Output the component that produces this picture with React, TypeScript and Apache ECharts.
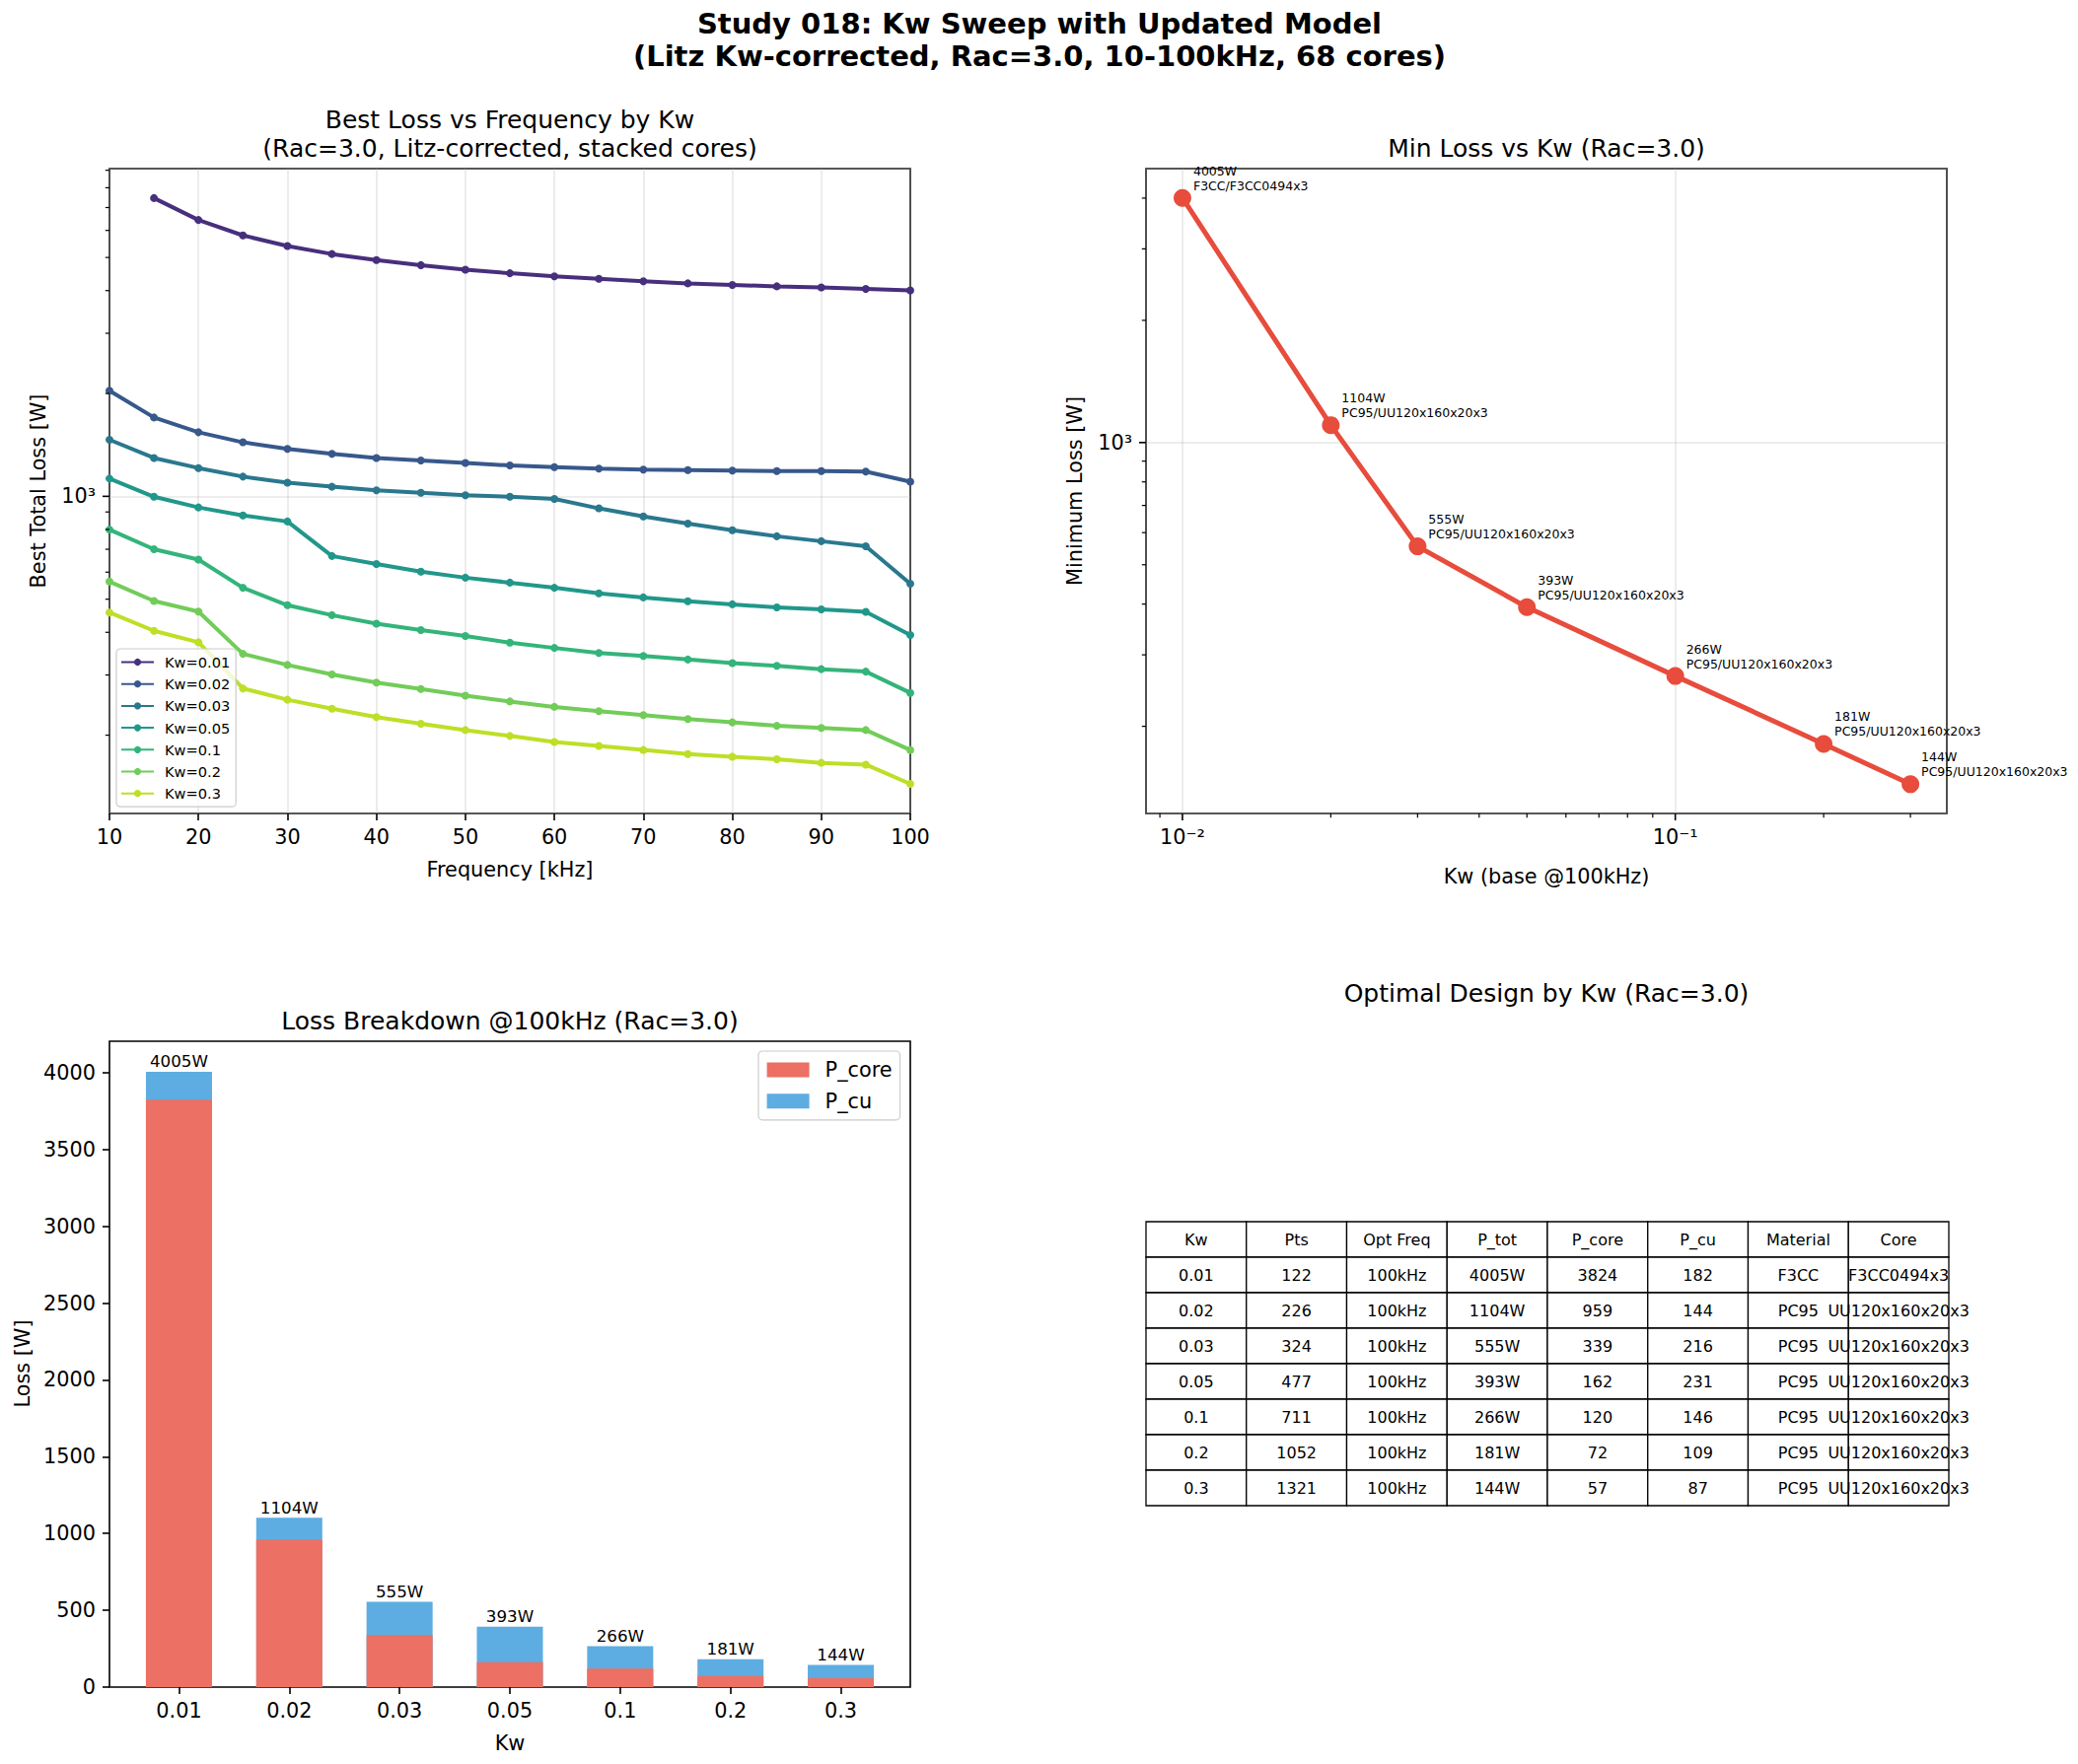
import React, { useEffect, useRef } from 'react';
import * as echarts from 'echarts';

// ---------- data ----------
const FREQS = [10, 15, 20, 25, 30, 35, 40, 45, 50, 55, 60, 65, 70, 75, 80, 85, 90, 95, 100];
const KW_LABELS = ['0.01', '0.02', '0.03', '0.05', '0.1', '0.2', '0.3'];
const KW_VALUES = [0.01, 0.02, 0.03, 0.05, 0.1, 0.2, 0.3];
const LINE_COLORS = ['#472f7d', '#38588c', '#2a788e', '#21978a', '#33b47a', '#72cc59', '#bddf26'];

const LOSS_KW001 = [null, 7460, 6435, 5801, 5404, 5117, 4912, 4748, 4605, 4496, 4405, 4329, 4258, 4199, 4157, 4116, 4086, 4046, 4005];
const LOSS_KW002 = [2037, 1701, 1540, 1439, 1377, 1331, 1295, 1273, 1252, 1231, 1218, 1206, 1198, 1194, 1190, 1186, 1186, 1181, 1104];
const LOSS_KW003 = [1464, 1295, 1210, 1142, 1096, 1067, 1041, 1024, 1007, 997, 983, 922, 873, 832, 796, 764, 739, 714, 555];
const LOSS_KW005 = [1127, 997, 928, 879, 844, 669, 634, 602, 578, 559, 540, 520, 506, 493, 483, 473, 467, 459, 393];
const LOSS_KW01 = [799, 700, 653, 540, 480, 449, 424, 406, 390, 373, 360, 348, 341, 333, 325, 319, 312, 307, 266];
const LOSS_KW02 = [563, 494, 460, 346, 321, 301, 285, 273, 261, 251, 242, 235, 229, 223, 218, 213, 210, 207, 181];
const LOSS_KW03 = [457, 404, 374, 274, 254, 239, 226, 216, 207, 199, 191, 186, 181, 176, 173, 170, 166, 164, 144];
const LOSS_SERIES = [LOSS_KW001, LOSS_KW002, LOSS_KW003, LOSS_KW005, LOSS_KW01, LOSS_KW02, LOSS_KW03];

const PTS = [122, 226, 324, 477, 711, 1052, 1321];
const OPT_FREQ = ['100kHz', '100kHz', '100kHz', '100kHz', '100kHz', '100kHz', '100kHz'];
const P_TOT = [4005, 1104, 555, 393, 266, 181, 144];
const P_CORE = [3824, 959, 339, 162, 120, 72, 57];
const P_CU = [182, 144, 216, 231, 146, 109, 87];
const MATERIAL = ['F3CC', 'PC95', 'PC95', 'PC95', 'PC95', 'PC95', 'PC95'];
const CORE = ['F3CC0494x3', 'UU120x160x20x3', 'UU120x160x20x3', 'UU120x160x20x3', 'UU120x160x20x3', 'UU120x160x20x3', 'UU120x160x20x3'];
const TABLE_HEADERS = ['Kw', 'Pts', 'Opt Freq', 'P_tot', 'P_core', 'P_cu', 'Material', 'Core'];

// axis ranges / ticks
const TL_Y_RANGE = [118, 9100];
const TR_X_RANGE = [0.008435, 0.3556];
const TR_Y_RANGE = [122, 4729];
const BAR_Y_RANGE = [0, 4205];
const BAR_X_RANGE = [-0.63, 6.63];
const BAR_Y_TICKS = [0, 500, 1000, 1500, 2000, 2500, 3000, 3500, 4000];
const TL_Y_MAJOR = [1000];
const TL_Y_MINOR = [200, 300, 400, 500, 600, 700, 800, 900, 2000, 3000, 4000, 5000, 6000, 7000, 8000, 9000];
const TR_X_MAJOR = [0.01, 0.1];
const TR_X_MINOR = [0.009, 0.02, 0.03, 0.04, 0.05, 0.06, 0.07, 0.08, 0.09, 0.2, 0.3];
const TR_Y_MAJOR = [1000];
const TR_Y_MINOR = [200, 300, 400, 500, 600, 700, 800, 900, 2000, 3000, 4000];

const FONT = '"DejaVu Sans", sans-serif';
const SUP: Record<string, string> = { '-': '⁻', '0': '⁰', '1': '¹', '2': '²', '3': '³', '4': '⁴', '5': '⁵', '6': '⁶', '7': '⁷', '8': '⁸', '9': '⁹' };

function powLabel(v: number): string {
  const l = Math.log10(v);
  const r = Math.round(l);
  if (Math.abs(l - r) > 1e-6) return '';
  return '10' + String(r).split('').map((c) => SUP[c] || c).join('');
}

const GRID_LINE = { show: true, lineStyle: { color: 'rgba(176,176,176,0.3)', width: 1.6 } };
const LABEL_STYLE = { color: '#000', fontSize: 20.8, fontFamily: FONT };

function tickSeries(xi: number, yi: number, items: number[][], dir: 'x' | 'y') {
  return {
    type: 'custom',
    xAxisIndex: xi,
    yAxisIndex: yi,
    silent: true,
    clip: false,
    z: 5,
    data: items,
    renderItem: (params: any, api: any) => {
      const p = api.coord([api.value(0), api.value(1)]);
      const len = api.value(2);
      const w = len > 5 ? 1.6 : 1.2;
      const shape =
        dir === 'y'
          ? { x1: p[0] - len, y1: p[1], x2: p[0], y2: p[1] }
          : { x1: p[0], y1: p[1], x2: p[0], y2: p[1] + len };
      return { type: 'line', shape, style: { stroke: '#000', lineWidth: w } };
    },
  };
}

function text(x: number, y: number, t: string, size: number, opts: any = {}) {
  return {
    type: 'text',
    x,
    y,
    rotation: opts.rotation || 0,
    silent: true,
    style: {
      text: t,
      fill: '#000',
      fontSize: size,
      fontFamily: FONT,
      fontWeight: opts.bold ? 'bold' : 'normal',
      align: 'center',
      verticalAlign: 'middle',
    },
  };
}

function buildTable() {
  const tx = 1162;
  const ty = 1239;
  const cw = 101.75;
  const rh = 36;
  const rows: string[][] = [TABLE_HEADERS];
  KW_LABELS.forEach((k, i) => {
    rows.push([k, String(PTS[i]), OPT_FREQ[i], P_TOT[i] + 'W', String(P_CORE[i]), String(P_CU[i]), MATERIAL[i], CORE[i]]);
  });
  const rects: any[] = [];
  const texts: any[] = [];
  rows.forEach((row, r) => {
    row.forEach((t, c) => {
      rects.push({
        type: 'rect',
        silent: true,
        shape: { x: tx + c * cw, y: ty + r * rh, width: cw, height: rh },
        style: { fill: '#fff', stroke: '#000', lineWidth: 1.3 },
      });
      texts.push(text(tx + c * cw + cw / 2, ty + r * rh + rh / 2, t, 16));
    });
  });
  return [...rects, ...texts];
}

export default function App() {
  const ref = useRef<HTMLDivElement>(null);

  useEffect(() => {
    document.body.style.margin = '0';
    if (!ref.current) return;
    const chart = echarts.init(ref.current, undefined, { renderer: 'svg' });

    const lineSeries = LOSS_SERIES.map((vals, si) => ({
      type: 'line',
      name: 'Kw=' + KW_LABELS[si],
      xAxisIndex: 0,
      yAxisIndex: 0,
      data: FREQS.map((f, i) => [f, vals[i]]).filter((d) => d[1] !== null),
      symbol: 'circle',
      symbolSize: 8,
      showSymbol: true,
      lineStyle: { width: 4, color: LINE_COLORS[si] },
      itemStyle: { color: LINE_COLORS[si] },
      z: 3,
    }));

    const idx = KW_LABELS.map((_, i) => i);

    const option: any = {
      animation: false,
      backgroundColor: '#fff',
      textStyle: { fontFamily: FONT },
      grid: [
        { left: 111, top: 171, width: 812, height: 654, show: true, borderColor: '#000', borderWidth: 1.6, backgroundColor: 'transparent' },
        { left: 1162, top: 171, width: 812, height: 654, show: true, borderColor: '#000', borderWidth: 1.6, backgroundColor: 'transparent' },
        { left: 111, top: 1056, width: 812, height: 655, show: true, borderColor: '#000', borderWidth: 1.6, backgroundColor: 'transparent' },
      ],
      xAxis: [
        {
          gridIndex: 0,
          type: 'value',
          min: 10,
          max: 100,
          interval: 10,
          axisLine: { show: false, onZero: false },
          axisTick: { show: true, length: 7, lineStyle: { color: '#000', width: 1.6 } },
          axisLabel: { ...LABEL_STYLE, margin: 13 },
          splitLine: GRID_LINE,
        },
        {
          gridIndex: 1,
          type: 'log',
          logBase: 10,
          min: TR_X_RANGE[0],
          max: TR_X_RANGE[1],
          axisLine: { show: false, onZero: false },
          axisTick: { show: false },
          minorTick: { show: false },
          axisLabel: { ...LABEL_STYLE, margin: 13, formatter: (v: number) => powLabel(v) },
          splitLine: GRID_LINE,
        },
        {
          gridIndex: 2,
          type: 'value',
          min: BAR_X_RANGE[0],
          max: BAR_X_RANGE[1],
          axisLine: { show: false, onZero: false },
          axisTick: { show: true, length: 7, customValues: idx, lineStyle: { color: '#000', width: 1.6 } },
          axisLabel: { ...LABEL_STYLE, margin: 13, customValues: idx, formatter: (v: number) => KW_LABELS[Math.round(v)] ?? '' },
          splitLine: { show: false },
        },
      ],
      yAxis: [
        {
          gridIndex: 0,
          type: 'log',
          logBase: 10,
          min: TL_Y_RANGE[0],
          max: TL_Y_RANGE[1],
          axisLine: { show: false, onZero: false },
          axisTick: { show: false },
          minorTick: { show: false },
          axisLabel: { ...LABEL_STYLE, margin: 14, formatter: (v: number) => powLabel(v) },
          splitLine: GRID_LINE,
        },
        {
          gridIndex: 1,
          type: 'log',
          logBase: 10,
          min: TR_Y_RANGE[0],
          max: TR_Y_RANGE[1],
          axisLine: { show: false, onZero: false },
          axisTick: { show: false },
          minorTick: { show: false },
          axisLabel: { ...LABEL_STYLE, margin: 14, formatter: (v: number) => powLabel(v) },
          splitLine: GRID_LINE,
        },
        {
          gridIndex: 2,
          type: 'value',
          min: BAR_Y_RANGE[0],
          max: BAR_Y_RANGE[1],
          axisLine: { show: false, onZero: false },
          axisTick: { show: true, length: 7, customValues: BAR_Y_TICKS, lineStyle: { color: '#000', width: 1.6 } },
          axisLabel: { ...LABEL_STYLE, margin: 14, customValues: BAR_Y_TICKS, formatter: (v: number) => String(Math.round(v)) },
          splitLine: { show: false },
        },
      ],
      legend: [
        {
          data: lineSeries.map((s) => s.name),
          orient: 'vertical',
          left: 118,
          top: 658,
          itemWidth: 33,
          itemHeight: 9,
          itemGap: 5.2,
          padding: [5, 6, 5, 4],
          backgroundColor: 'rgba(255,255,255,0.8)',
          borderColor: '#cccccc',
          borderWidth: 1.2,
          borderRadius: 4,
          textStyle: { color: '#000', fontSize: 14.6, fontFamily: FONT, lineHeight: 17, padding: [0, 0, 0, 6] },
          selectedMode: false,
        },
        {
          data: ['P_core', 'P_cu'],
          orient: 'vertical',
          left: 769,
          top: 1066,
          itemWidth: 43,
          itemHeight: 15,
          itemGap: 7.8,
          padding: [7, 8, 7, 8.6],
          backgroundColor: 'rgba(255,255,255,0.8)',
          borderColor: '#cccccc',
          borderWidth: 1.2,
          borderRadius: 4,
          icon: 'rect',
          textStyle: { color: '#000', fontSize: 20.8, fontFamily: FONT, lineHeight: 24, padding: [0, 0, 0, 11] },
          selectedMode: false,
        },
      ],
      series: [
        ...lineSeries,
        {
          type: 'line',
          name: 'minloss',
          xAxisIndex: 1,
          yAxisIndex: 1,
          data: KW_VALUES.map((k, i) => [k, P_TOT[i]]),
          symbol: 'circle',
          symbolSize: 18,
          lineStyle: { width: 5, color: '#e74c3c' },
          itemStyle: { color: '#e74c3c' },
          label: {
            show: true,
            position: [20, 4],
            align: 'left',
            verticalAlign: 'bottom',
            fontSize: 12.5,
            lineHeight: 15,
            fontFamily: FONT,
            color: '#000',
            formatter: (p: any) => `${P_TOT[p.dataIndex]}W\n${MATERIAL[p.dataIndex]}/${CORE[p.dataIndex]}`,
          },
        },
        // P_cu drawn as the upper segment: a bar from 0 to P_core + P_cu, with P_core drawn over it
        {
          type: 'bar',
          name: 'P_cu',
          xAxisIndex: 2,
          yAxisIndex: 2,
          barWidth: 67,
          barGap: '-100%',
          data: idx.map((i) => [i, P_CORE[i] + P_CU[i]]),
          itemStyle: { color: '#5dade2' },
          z: 2,
          label: {
            show: true,
            position: 'top',
            distance: 2,
            fontSize: 16.7,
            fontFamily: FONT,
            color: '#000',
            formatter: (p: any) => `${P_TOT[p.dataIndex]}W`,
          },
        },
        {
          type: 'bar',
          name: 'P_core',
          xAxisIndex: 2,
          yAxisIndex: 2,
          barWidth: 67,
          barGap: '-100%',
          data: idx.map((i) => [i, P_CORE[i]]),
          itemStyle: { color: '#ec7063' },
          z: 3,
        },
        tickSeries(0, 0, [...TL_Y_MAJOR.map((v) => [10, v, 7]), ...TL_Y_MINOR.map((v) => [10, v, 4.2])], 'y'),
        tickSeries(1, 1, [...TR_Y_MAJOR.map((v) => [TR_X_RANGE[0], v, 7]), ...TR_Y_MINOR.map((v) => [TR_X_RANGE[0], v, 4.2])], 'y'),
        tickSeries(1, 1, [...TR_X_MAJOR.map((v) => [v, TR_Y_RANGE[0], 7]), ...TR_X_MINOR.map((v) => [v, TR_Y_RANGE[0], 4.2])], 'x'),
      ],
      graphic: [
        text(1054, 24, 'Study 018: Kw Sweep with Updated Model', 29, { bold: true }),
        text(1054, 57, '(Litz Kw-corrected, Rac=3.0, 10-100kHz, 68 cores)', 29, { bold: true }),
        text(517, 121, 'Best Loss vs Frequency by Kw', 25),
        text(517, 150, '(Rac=3.0, Litz-corrected, stacked cores)', 25),
        text(1568, 150, 'Min Loss vs Kw (Rac=3.0)', 25),
        text(517, 1035, 'Loss Breakdown @100kHz (Rac=3.0)', 25),
        text(1568, 1007, 'Optimal Design by Kw (Rac=3.0)', 25),
        text(517, 882, 'Frequency [kHz]', 20.8),
        text(1568, 889, 'Kw (base @100kHz)', 20.8),
        text(517, 1768, 'Kw', 20.8),
        text(38.5, 498, 'Best Total Loss [W]', 20.8, { rotation: Math.PI / 2 }),
        text(1090, 498, 'Minimum Loss [W]', 20.8, { rotation: Math.PI / 2 }),
        text(23, 1383, 'Loss [W]', 20.8, { rotation: Math.PI / 2 }),
        ...buildTable(),
      ],
    };

    chart.setOption(option);
    return () => chart.dispose();
  }, []);

  return <div ref={ref} style={{ width: 2107, height: 1789 }} />;
}
